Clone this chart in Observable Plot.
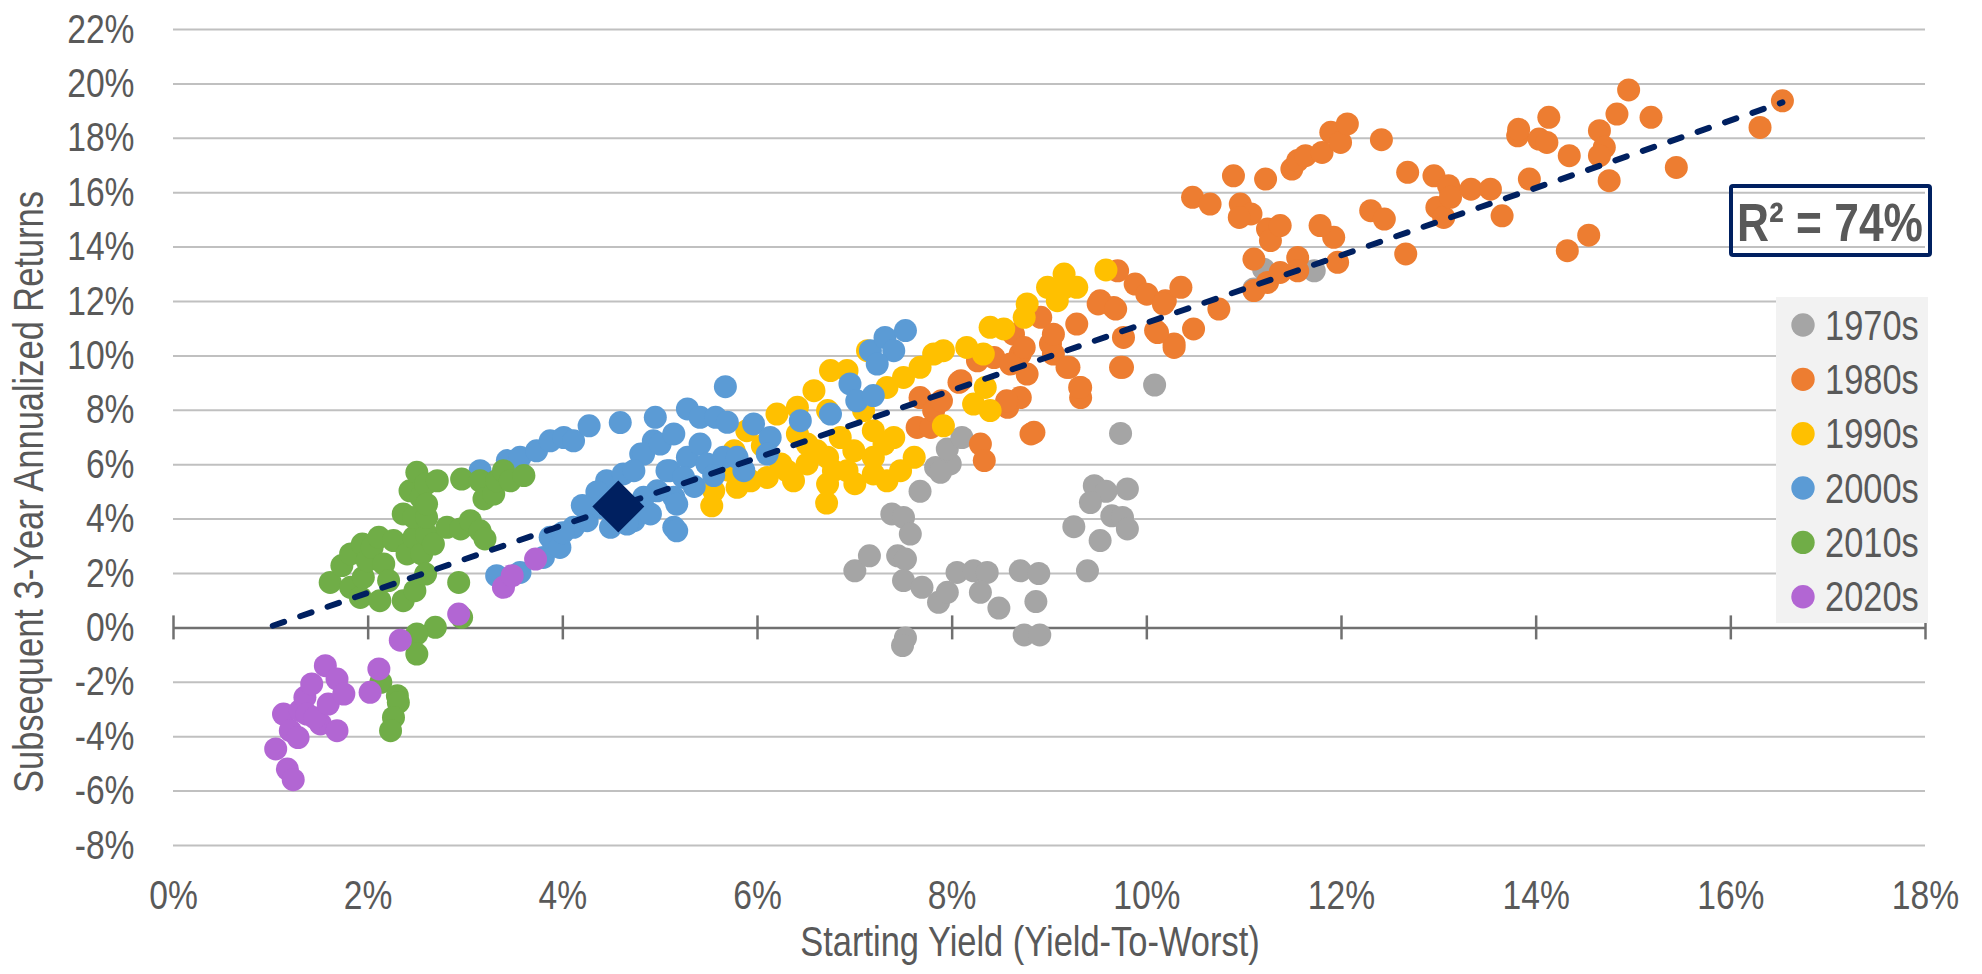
<!DOCTYPE html>
<html>
<head>
<meta charset="utf-8">
<script src="https://cdn.jsdelivr.net/npm/d3@7"></script>
<script src="https://cdn.jsdelivr.net/npm/@observablehq/plot@0.6"></script>
<style>
html, body { margin: 0; padding: 0; background: #ffffff; }
#chart { position: relative; width: 1982px; height: 974px; overflow: hidden; }
</style>
</head>
<body>
<div id="chart"></div>
<script>
// ---------- DATA ----------
const decades = ["1970s", "1980s", "1990s", "2000s", "2010s", "2020s"];
const decadeColors = ["#a5a5a5", "#ed7d31", "#ffc000", "#5b9bd5", "#70ad47", "#b266d3"];

// [starting yield %, subsequent 3-yr annualized return %]
const pts1970s = [
  [7.00,2.10],[7.15,2.65],[7.38,4.19],[7.50,4.06],[7.57,3.45],[7.44,2.65],[7.52,2.53],[7.50,1.74],
  [7.69,1.49],[7.86,0.94],[7.95,1.31],[8.05,2.04],[8.22,2.10],[8.36,2.04],[8.29,1.31],[8.48,0.73],
  [8.70,2.10],[8.89,2.00],[8.86,0.97],[8.74,-0.26],[8.90,-0.26],[7.52,-0.37],[7.49,-0.65],[7.67,5.02],
  [7.83,5.90],[7.98,6.03],[7.88,5.72],[7.95,6.58],[8.10,7.00],[9.73,7.15],[9.46,5.23],[9.58,5.02],
  [9.80,5.11],[9.42,4.61],[9.64,4.12],[9.75,4.06],[9.80,3.64],[9.25,3.72],[9.52,3.21],[9.39,2.10],
  [10.08,8.93],[11.10,12.46],[11.20,13.19],[11.72,13.13]
];
const pts1980s = [
  [7.64,7.37],[7.78,7.37],[7.67,8.47],[7.81,7.99],[7.89,8.35],[8.07,9.03],[8.09,9.09],[8.26,9.82],
  [8.29,6.76],[8.33,6.15],[8.43,9.94],[8.57,8.11],[8.70,8.47],[8.70,10.07],[8.77,9.33],[8.63,10.80],
  [8.91,11.42],[9.04,10.07],[8.84,7.19],[8.60,9.70],[8.74,10.31],[9.32,8.84],[9.32,8.47],[9.75,9.58],
  [9.20,9.58],[9.01,10.44],[9.04,10.80],[9.28,11.17],[9.52,12.03],[9.66,11.78],[9.70,13.13],[9.88,12.64],
  [10.00,12.27],[10.19,12.03],[10.35,12.52],[9.76,10.68],[10.09,10.93],[10.28,10.44],[10.48,10.99],[10.74,11.72],
  [10.17,11.91],[10.11,10.86],[11.10,13.56],[11.24,12.70],[11.37,13.07],[11.55,13.62],[11.55,13.13],[11.96,13.44],
  [11.92,14.36],[11.78,14.79],[12.66,13.75],[11.24,14.67],[11.27,14.24],[11.37,14.79],[10.96,15.58],[11.07,15.22],
  [10.95,15.09],[10.47,15.83],[10.65,15.58],[10.89,16.62],[11.22,16.50],[11.49,16.87],[11.55,17.18],[11.63,17.36],
  [11.80,17.48],[11.89,18.22],[11.99,17.85],[12.06,18.53],[12.41,17.95],[12.30,15.34],[12.44,15.03],[12.98,15.46],
  [13.05,15.09],[12.68,16.75],[12.95,16.62],[13.12,16.07],[13.10,16.26],[13.12,15.83],[13.33,16.13],[13.53,16.13],
  [13.65,15.15],[13.93,16.50],[13.81,18.09],[13.82,18.33],[14.03,17.97],[14.11,17.85],[14.13,18.77],[14.34,17.36],
  [14.65,18.28],[14.70,17.67],[14.65,17.36],[14.75,16.44],[14.83,18.89],[14.95,19.78],[14.32,13.87],[14.54,14.44],
  [15.18,18.77],[15.44,16.93],[16.30,18.40],[16.53,19.38],[9.18,9.58],[9.31,8.84],[9.50,11.91],[9.68,11.72],
  [10.28,10.31],[11.10,12.40],[8.56,8.35],[8.81,7.13],[9.73,9.58]
];
const pts1990s = [
  [5.53,4.49],[5.55,5.04],[5.79,5.17],[5.93,5.41],[6.10,5.53],[6.30,5.78],[6.37,5.41],[6.24,6.03],
  [5.76,6.51],[5.89,7.25],[6.20,7.86],[6.41,8.11],[6.58,8.72],[6.75,9.46],[6.92,9.46],[6.72,7.99],
  [6.51,6.76],[6.51,6.03],[6.41,7.13],[6.61,6.51],[6.72,6.27],[6.78,5.78],[6.92,5.78],[6.72,5.29],
  [6.71,4.59],[6.99,6.51],[7.19,6.27],[7.30,6.76],[7.19,5.66],[7.33,5.41],[7.40,7.00],[7.47,5.78],
  [7.61,6.27],[7.19,7.25],[7.09,7.99],[7.13,10.19],[7.33,8.84],[7.50,9.21],[7.67,9.58],[7.81,10.07],
  [7.91,10.19],[8.15,10.31],[8.32,10.07],[8.39,11.05],[8.53,10.99],[8.74,11.42],[8.77,11.91],[8.98,12.52],
  [8.22,8.23],[8.39,7.99],[8.34,8.84],[7.91,7.43],[9.15,13.01],[9.08,12.03],[9.28,12.52],[9.58,13.16],
  [9.15,12.50],[6.05,6.70],[6.85,7.00],[7.00,5.30],[5.70,5.80]
];
const pts2000s = [
  [3.15,5.78],[3.43,6.15],[3.56,6.27],[3.73,6.51],[3.87,6.88],[4.01,7.00],[4.11,6.88],[4.27,7.43],
  [4.59,7.55],[3.32,1.92],[3.56,2.04],[3.80,2.59],[3.87,3.33],[3.97,2.96],[4.11,3.70],[4.25,3.94],
  [4.39,4.43],[4.49,3.70],[4.45,5.41],[4.62,5.66],[4.73,3.94],[4.90,4.19],[4.80,6.39],[4.93,6.88],
  [5.14,3.70],[5.14,4.80],[5.10,5.78],[4.66,3.82],[5.17,3.57],[5.17,4.55],[4.97,5.04],[5.67,8.87],
  [4.95,7.74],[5.28,8.05],[5.41,7.74],[5.57,7.74],[5.69,7.56],[4.83,6.39],[5.00,6.76],[5.14,7.13],
  [5.28,6.27],[5.41,6.76],[5.48,6.03],[5.65,6.27],[5.79,6.27],[5.86,5.78],[4.73,5.78],[5.07,5.78],
  [5.24,5.53],[4.83,4.80],[5.96,7.50],[6.13,7.00],[6.10,6.39],[6.44,7.62],[6.75,7.86],[6.95,8.97],
  [7.02,8.35],[7.19,8.54],[7.16,10.19],[7.31,10.68],[7.40,10.19],[7.52,10.93],[7.23,9.70],[4.35,5.00],
  [4.20,4.50],[4.00,3.50],[5.35,5.20],[5.55,5.60]
];
const pts2010s = [
  [1.61,1.67],[1.73,2.29],[1.82,1.49],[1.82,2.72],[1.92,1.12],[1.94,3.08],[1.95,1.86],[1.99,2.47],
  [2.04,2.96],[2.11,3.33],[2.12,1.00],[2.16,2.35],[2.21,1.74],[2.26,3.21],[2.36,1.00],[2.40,2.72],
  [2.47,3.33],[2.48,1.37],[2.55,2.72],[2.59,1.98],[2.60,3.45],[2.67,3.08],[2.36,4.19],[2.47,4.06],
  [2.60,4.06],[2.43,5.04],[2.54,4.80],[2.50,5.72],[2.59,5.29],[2.71,5.41],[2.60,4.55],[2.81,3.70],
  [2.95,3.64],[3.05,3.94],[3.15,3.57],[3.20,3.27],[2.96,5.47],[3.15,5.41],[3.19,4.74],[3.29,4.92],
  [3.32,5.41],[3.39,5.78],[3.46,5.41],[3.60,5.60],[2.93,1.67],[2.96,0.39],[2.69,0.02],[2.50,-0.22],
  [2.50,-0.96],[2.13,-2.00],[2.30,-2.49],[2.31,-2.74],[2.26,-3.29],[2.23,-3.78]
];
const pts2020s = [
  [1.05,-4.45],[1.13,-3.17],[1.17,-5.19],[1.20,-3.78],[1.23,-5.58],[1.28,-4.03],[1.30,-3.04],[1.35,-2.55],
  [1.37,-3.17],[1.42,-2.06],[1.51,-3.53],[1.45,-3.30],[1.56,-1.39],[1.59,-2.80],[1.68,-1.88],[1.68,-3.78],
  [1.75,-2.43],[2.02,-2.37],[2.11,-1.51],[2.33,-0.45],[2.93,0.51],[3.39,1.49],[3.48,1.92],[3.72,2.53]
];

const currentPoint = [[4.57, 4.46]];          // highlighted diamond
const trendX = [1.02, 16.53];                  // dashed trend line end points
const trendY = [0.08, 19.32];
const rSquaredText = "R² = 74%";

const xTicks = [0, 2, 4, 6, 8, 10, 12, 14, 16, 18];
const yTicks = [-8, -6, -4, -2, 0, 2, 4, 6, 8, 10, 12, 14, 16, 18, 20, 22];
const xTitle = "Starting Yield (Yield-To-Worst)";
const yTitle = "Subsequent 3-Year Annualized Returns";

// ---------- BUILD ----------
const FONT = '"Liberation Sans", Arial, sans-serif';
const NARROW = 0.82;   // emulate a narrow face (Arial Narrow)
const TXT = "#595959";
const NAVY = "#002060";

const seriesList = [pts1970s, pts1980s, pts1990s, pts2000s, pts2010s, pts2020s];
const points = seriesList.flatMap((arr, i) => arr.map(([x, y]) => ({x, y, decade: decades[i]})));
const trend = trendX.map((x, i) => ({x, y: trendY[i]}));
const current = currentPoint.map(([x, y]) => ({x, y}));
const pct = d => d + "%";

const chart = Plot.plot({
  width: 1982,
  height: 974,
  marginLeft: 173,
  marginRight: 57,
  marginTop: 29,
  marginBottom: 129,
  x: {domain: [0, 18]},
  y: {domain: [-8, 22]},
  color: {domain: decades, range: decadeColors},
  style: {fontFamily: FONT, fontSize: "41px", color: TXT, background: "#ffffff", overflow: "visible"},
  marks: [
    Plot.ruleY(yTicks.filter(d => d !== 0), {y: d => d, stroke: "#c0c0c0", strokeWidth: 2}),
    Plot.ruleY([0], {y: d => d, stroke: "#707070", strokeWidth: 2.5}),
    Plot.ruleX(xTicks, {x: d => d, y1: 0, y2: 0, insetTop: -12, insetBottom: -12, stroke: "#707070", strokeWidth: 2.5}),
    Plot.axisX({ticks: xTicks, tickSize: 0, tickPadding: 34, tickFormat: pct, label: null, fill: TXT, fontSize: 41}),
    Plot.axisY({ticks: yTicks, tickSize: 0, tickPadding: 39, tickFormat: pct, label: null, fill: TXT, fontSize: 41}),
    Plot.dot(points, {x: "x", y: "y", fill: "decade", r: 11.5}),
    Plot.line(trend, {x: "x", y: "y", stroke: NAVY, strokeWidth: 6, strokeDasharray: "12,17", strokeLinecap: "round"}),
    Plot.dot(current, {x: "x", y: "y", symbol: "diamond2", r: 23.4, fill: NAVY})
  ]
});

document.getElementById("chart").appendChild(chart);

// titles, legend and R² box drawn into the same SVG
const svg = d3.select(chart);

svg.append("text")
  .attr("x", 1030).attr("y", 956)
  .attr("text-anchor", "middle")
  .attr("fill", TXT).style("font-family", FONT).style("font-size", "42px")
  .text(xTitle);

svg.append("text")
  .attr("transform", "translate(43,492) rotate(-90)")
  .attr("text-anchor", "middle")
  .attr("fill", TXT).style("font-family", FONT).style("font-size", "42px")
  .text(yTitle);

// R² box
svg.append("rect")
  .attr("x", 1731).attr("y", 186).attr("width", 199).attr("height", 69)
  .attr("rx", 2).attr("fill", "none").attr("stroke", NAVY).attr("stroke-width", 4);
svg.append("text")
  .attr("x", 1830).attr("y", 240.5)
  .attr("text-anchor", "middle")
  .attr("fill", TXT).style("font-family", FONT).style("font-size", "54px").style("font-weight", "bold")
  .text(rSquaredText);

// legend
const lg = svg.append("g");
lg.append("rect").attr("x", 1776).attr("y", 297).attr("width", 152).attr("height", 326).attr("fill", "#f2f2f2");
decades.forEach((d, i) => {
  const cy = 325 + i * 54.35;
  lg.append("circle").attr("cx", 1803).attr("cy", cy).attr("r", 11.7).attr("fill", decadeColors[i]);
  lg.append("text").attr("x", 1825).attr("y", cy).attr("dy", "0.35em")
    .attr("text-anchor", "start")
    .attr("fill", TXT).style("font-family", FONT).style("font-size", "42px").text(d);
});

// condense every text horizontally to mimic the narrow typeface of the original
chart.querySelectorAll("text").forEach(t => {
  const spans = t.querySelectorAll("tspan");
  const targets = spans.length ? Array.from(spans) : [t];
  targets.forEach(el => {
    const len = el.getComputedTextLength();
    if (len > 0) {
      el.setAttribute("textLength", (len * NARROW).toFixed(1));
      el.setAttribute("lengthAdjust", "spacingAndGlyphs");
    }
  });
});
</script>
</body>
</html>
